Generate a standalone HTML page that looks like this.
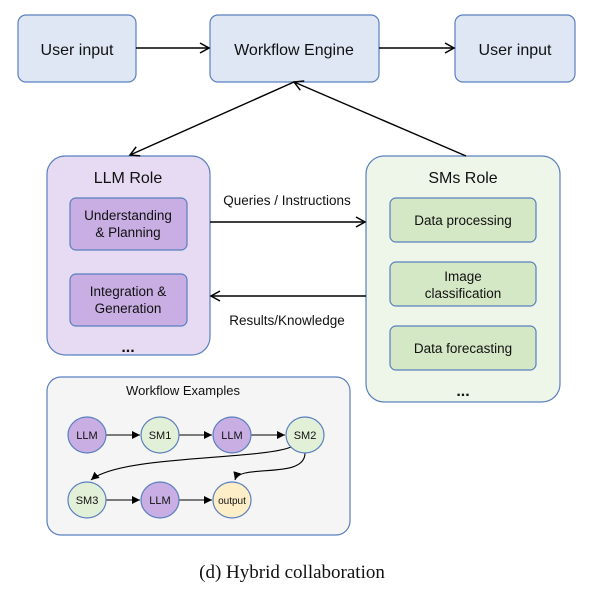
<!DOCTYPE html>
<html><head><meta charset="utf-8"><style>
html,body{margin:0;padding:0;background:#fff;}
svg{display:block;}
text{font-family:"Liberation Sans",Arial,sans-serif;fill:#111;}
</style></head><body>
<svg width="604" height="589" viewBox="0 0 604 589" xmlns="http://www.w3.org/2000/svg">
<defs>
<marker id="oa" markerWidth="12" markerHeight="12" refX="10" refY="6" orient="auto" markerUnits="userSpaceOnUse">
<path d="M1,1 L10,6 L1,11" fill="none" stroke="#000" stroke-width="1.5"/></marker>
<marker id="fa" markerWidth="10" markerHeight="10" refX="8" refY="4" orient="auto" markerUnits="userSpaceOnUse">
<path d="M0,0 L8,4 L0,8 z" fill="#000"/></marker>
</defs>
<g stroke="#5a7fbf" stroke-width="1.2">
<rect x="18" y="15" width="118" height="67" rx="8" fill="#dfe7f5"/>
<rect x="210" y="15" width="169" height="67" rx="8" fill="#dfe7f5"/>
<rect x="455" y="15" width="120" height="67" rx="8" fill="#dfe7f5"/>
<rect x="47" y="156" width="163" height="199" rx="18" fill="#e6dbf2"/>
<rect x="366" y="156" width="194" height="246" rx="18" fill="#eef6ea"/>
<rect x="70" y="198" width="117" height="52" rx="6" fill="#c9aee3"/>
<rect x="70" y="274" width="117" height="52" rx="6" fill="#c9aee3"/>
<rect x="390" y="198" width="146" height="44" rx="6" fill="#d5e8c6"/>
<rect x="390" y="262" width="146" height="44" rx="6" fill="#d5e8c6"/>
<rect x="390" y="326" width="146" height="44" rx="6" fill="#d5e8c6"/>
<rect x="47" y="377" width="303" height="158" rx="14" fill="#f5f5f5"/>
</g>
<g font-size="16" text-anchor="middle">
<text x="77" y="55">User input</text>
<text x="294" y="55">Workflow Engine</text>
<text x="515" y="55">User input</text>
<text x="128" y="183">LLM Role</text>
<text x="463" y="183">SMs Role</text>
</g>
<g font-size="13.5" text-anchor="middle">
<text x="128" y="220">Understanding</text>
<text x="128" y="237">&amp; Planning</text>
<text x="128" y="296">Integration &amp;</text>
<text x="128" y="313">Generation</text>
<text x="463" y="225">Data processing</text>
<text x="463" y="281">Image</text>
<text x="463" y="298">classification</text>
<text x="463" y="353">Data forecasting</text>
<text x="287" y="205">Queries / Instructions</text>
<text x="287" y="325">Results/Knowledge</text>
<text x="183" y="395" font-size="13">Workflow Examples</text>
</g>
<text x="128" y="352" font-size="16" font-weight="bold" text-anchor="middle">...</text>
<text x="463" y="396" font-size="16" font-weight="bold" text-anchor="middle">...</text>
<g stroke="#000" stroke-width="1.4" fill="none">
<line x1="136" y1="48" x2="209" y2="48" marker-end="url(#oa)"/>
<line x1="379" y1="48" x2="454" y2="48" marker-end="url(#oa)"/>
<line x1="294" y1="82" x2="130" y2="155" marker-end="url(#oa)"/>
<line x1="466" y1="156" x2="294" y2="82" marker-end="url(#oa)"/>
<line x1="210" y1="222" x2="365" y2="222" marker-end="url(#oa)"/>
<line x1="366" y1="296" x2="211" y2="296" marker-end="url(#oa)"/>
<g stroke-width="1.1">
<line x1="106" y1="435" x2="140" y2="435" marker-end="url(#fa)"/>
<line x1="179" y1="435" x2="212" y2="435" marker-end="url(#fa)"/>
<line x1="251" y1="435" x2="285" y2="435" marker-end="url(#fa)"/>
<line x1="106" y1="500" x2="140" y2="500" marker-end="url(#fa)"/>
<line x1="179" y1="500" x2="212" y2="500" marker-end="url(#fa)"/>
<path d="M291,447 C260,460 120,455 91,480" marker-end="url(#fa)"/>
<path d="M305,453 C305,480 240,463 235,480" marker-end="url(#fa)"/>
</g>
</g>
<g stroke="#5a7fbf" stroke-width="1.2">
<ellipse cx="87" cy="435" rx="19" ry="18" fill="#c9aee3"/>
<ellipse cx="160" cy="435" rx="19" ry="18" fill="#e3f0d8"/>
<ellipse cx="232" cy="435" rx="19" ry="18" fill="#c9aee3"/>
<ellipse cx="305" cy="435" rx="19" ry="18" fill="#e3f0d8"/>
<ellipse cx="87" cy="500" rx="19" ry="18" fill="#e3f0d8"/>
<ellipse cx="160" cy="500" rx="19" ry="18" fill="#c9aee3"/>
<ellipse cx="232" cy="500" rx="19" ry="18" fill="#fdeec8"/>
</g>
<g font-size="11" text-anchor="middle">
<text x="87" y="439">LLM</text><text x="160" y="439">SM1</text>
<text x="232" y="439">LLM</text><text x="305" y="439">SM2</text>
<text x="87" y="504">SM3</text><text x="160" y="504">LLM</text>
<text x="232" y="504" font-size="10">output</text>
</g>
<text x="292" y="578" font-size="19" text-anchor="middle" style="font-family:'Liberation Serif',serif">(d) Hybrid collaboration</text>
</svg>
</body></html>
